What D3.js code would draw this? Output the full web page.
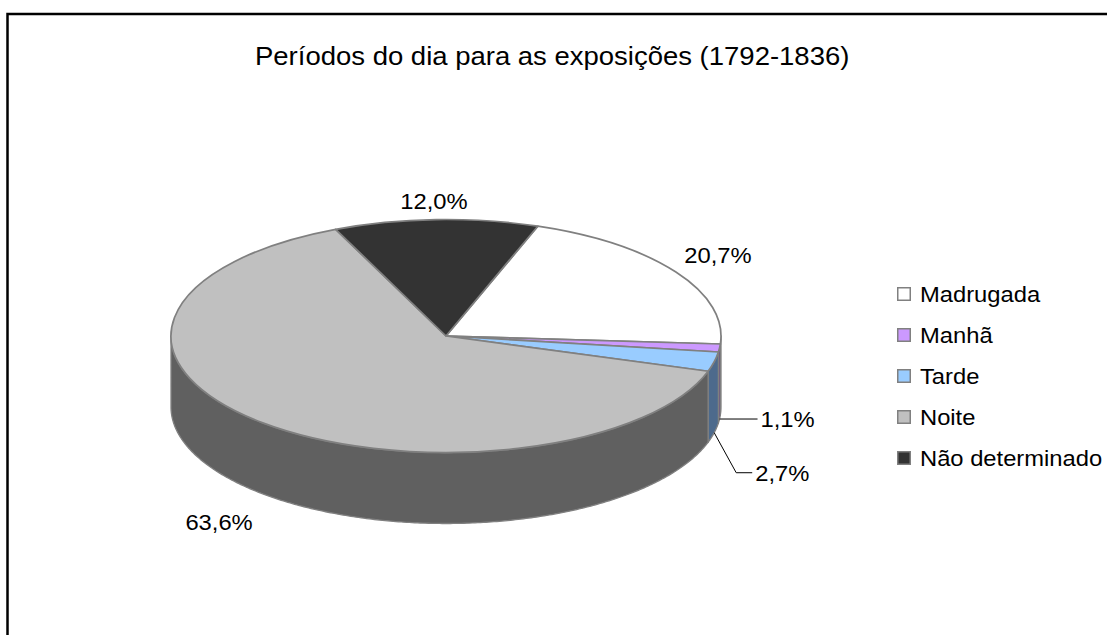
<!DOCTYPE html>
<html>
<head>
<meta charset="utf-8">
<script src="https://cdn.jsdelivr.net/npm/d3@7"></script>
<style>
body { margin: 0; background: #fff; }
svg { display: block; font-family: "Liberation Sans", Arial, sans-serif; }
</style>
</head>
<body>
<svg width="1107" height="635"></svg>
<script>
// data
var title = "Períodos do dia para as exposições (1792-1836)";
var categories = ["Madrugada", "Manhã", "Tarde", "Noite", "Não determinado"];
var percents = [20.7, 1.1, 2.7, 63.6, 12.0];
var percentLabels = ["20,7%", "1,1%", "2,7%", "63,6%", "12,0%"];

// styles
var topColors = ["#ffffff", "#cc99ff", "#99ccff", "#c0c0c0", "#333333"];
var sideColors = ["#8c8c8c", "#665080", "#4d6a8c", "#606060", "#1a1a1a"];
var outline = "#808080";

// layout
var cx = 446, cy = 336, rx = 275, ry = 116.5, depth = 71;
var startDeg = 19.5;
var textScale = 1.08;
// offset of each label from its rim point (null = use a leader line)
var labelOffset = [[42, -17], null, null, [-43, 28], [-2, -19]];
// leader line bends, relative to the rim point, last point is where the text goes
var leaders = [null, [[0, 0], [38, 0]], [[0, 0], [22, 40], [38, 40]], null, null];

var svg = d3.select("svg");

// chart border (runs off the right and bottom of the picture)
svg.append("rect")
  .attr("x", 7.5).attr("y", 14)
  .attr("width", 1200).attr("height", 700)
  .attr("fill", "none")
  .attr("stroke", "#000")
  .attr("stroke-width", 2.5);

svg.append("text")
  .attr("transform", "translate(255,65) scale(1.1,1)")
  .attr("font-size", 25)
  .attr("fill", "#000")
  .text(title);

var slices = categories.map(function(c, i) {
  return { name: c, value: percents[i], label: percentLabels[i], i: i };
});

var pie = d3.pie()
  .sort(null)
  .value(function(d) { return d.value; })
  .startAngle(startDeg * Math.PI / 180)
  .endAngle(startDeg * Math.PI / 180 + 2 * Math.PI);
var arcs = pie(slices);

function rim(a, dz) {
  return [cx + rx * Math.sin(a), cy - ry * Math.cos(a) + (dz || 0)];
}

// side walls: only the front half of the cylinder is visible
var line = d3.line();
function sidePath(a0, a1) {
  var paths = [];
  [0, 2 * Math.PI].forEach(function(k) {
    var lo = Math.max(a0, Math.PI / 2 + k), hi = Math.min(a1, 1.5 * Math.PI + k);
    if (hi <= lo) return;
    var n = Math.max(2, Math.ceil((hi - lo) / 0.01));
    var angles = d3.range(n + 1).map(function(j) { return lo + (hi - lo) * j / n; });
    var pts = angles.map(function(a) { return rim(a, 0); })
      .concat(angles.slice().reverse().map(function(a) { return rim(a, depth); }));
    paths.push(line(pts) + "Z");
  });
  return paths.join("");
}

svg.append("g").selectAll("path")
  .data(arcs)
  .enter().append("path")
  .attr("d", function(d) { return sidePath(d.startAngle, d.endAngle); })
  .attr("fill", function(d) { return sideColors[d.data.i]; })
  .attr("stroke", outline)
  .attr("stroke-width", 1.3)
  .attr("stroke-linejoin", "round");

// top faces: a circular pie squashed into the ellipse
var arc = d3.arc().innerRadius(0).outerRadius(rx);
svg.append("g")
  .attr("transform", "translate(" + cx + "," + cy + ") scale(1," + (ry / rx) + ")")
  .selectAll("path")
  .data(arcs)
  .enter().append("path")
  .attr("d", arc)
  .attr("fill", function(d) { return topColors[d.data.i]; })
  .attr("stroke", outline)
  .attr("stroke-width", 1.7)
  .attr("stroke-linejoin", "round")
  .attr("vector-effect", "non-scaling-stroke");

// data labels
var labels = svg.append("g").attr("font-size", 22).attr("fill", "#000");
arcs.forEach(function(d) {
  var i = d.data.i;
  var mid = (d.startAngle + d.endAngle) / 2;
  var front = Math.cos(mid) < 0;
  var p = rim(mid, front ? depth : 0);
  if (leaders[i]) {
    var pts = leaders[i].map(function(q) { return [p[0] + q[0], p[1] + q[1]]; });
    labels.append("path")
      .attr("d", line(pts))
      .attr("fill", "none")
      .attr("stroke", "#000")
      .attr("stroke-width", 1);
    var end = pts[pts.length - 1];
    labels.append("text")
      .attr("transform", "translate(" + (end[0] + 3) + "," + end[1] + ") scale(" + textScale + ",1)")
      .attr("dy", "0.36em")
      .text(d.data.label);
  } else {
    var o = labelOffset[i];
    labels.append("text")
      .attr("transform", "translate(" + (p[0] + o[0]) + "," + (p[1] + o[1]) + ") scale(" + textScale + ",1)")
      .attr("text-anchor", "middle")
      .attr("dy", "0.36em")
      .text(d.data.label);
  }
});

// legend
var legend = svg.append("g").attr("transform", "translate(897,294)");
var rows = legend.selectAll("g")
  .data(categories)
  .enter().append("g")
  .attr("transform", function(d, i) { return "translate(0," + (i * 41) + ")"; });
rows.append("rect")
  .attr("x", 0.75).attr("y", -6.25)
  .attr("width", 12.5).attr("height", 12.5)
  .attr("fill", function(d, i) { return topColors[i]; })
  .attr("stroke", outline)
  .attr("stroke-width", 1.5);
rows.append("text")
  .attr("transform", "translate(23,0) scale(" + textScale + ",1)")
  .attr("font-size", 22)
  .attr("dy", "0.36em")
  .text(function(d) { return d; });
</script>
</body>
</html>
